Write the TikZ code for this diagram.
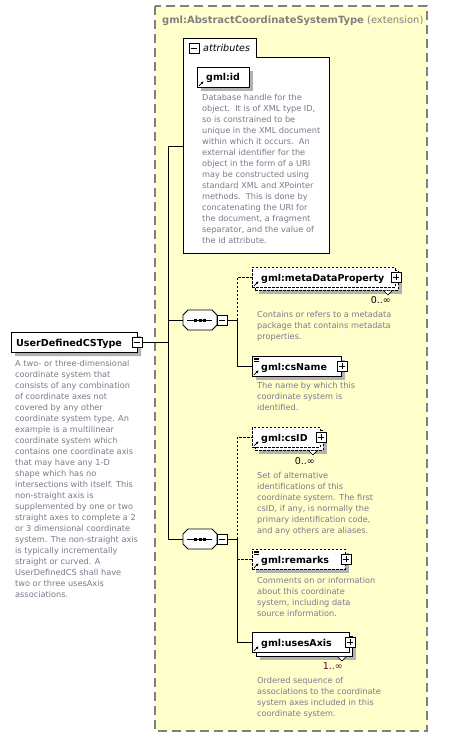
\documentclass[tikz,border=0pt]{standalone}
\usepackage{fontspec}
\setmainfont{DejaVu Sans}
\usetikzlibrary{shapes.misc}
\usetikzlibrary{shadows}
\usetikzlibrary{positioning}
\usetikzlibrary{arrows.meta}
\definecolor{extfill}{RGB}{255,255,204}
\definecolor{extline}{RGB}{128,128,128}
\definecolor{descgray}{RGB}{122,122,138}
\definecolor{shadowgray}{RGB}{178,178,178}
\definecolor{multred}{RGB}{110,0,40}
\tikzset{
    extbox/.style = {draw=extline, fill=extfill, line width=1.1pt, dash pattern=on 9pt off 5pt},
    shad/.style = {drop shadow={shadow xshift=4pt, shadow yshift=-4pt, fill=shadowgray, opacity=1}},
    elem/.style = {rectangle, draw=black, fill=white, line width=0.9pt, anchor=north west, minimum height=20pt, inner sep=0pt},
    elemopt/.style = {elem, dash pattern=on 2.5pt off 1.5pt},
    elemtxt/.style = {anchor=base west, inner sep=0pt, font=\fontsize{9.5}{11}\selectfont\bfseries},
    descr/.style = {anchor=north west, inner sep=0pt, align=left, text=descgray, font=\fontsize{8.2}{11}\selectfont},
    multi/.style = {anchor=east, inner sep=0pt, font=\fontsize{9.5}{11}\selectfont},
    plusbox/.style = {rectangle, draw=black, fill=white, line width=0.8pt, minimum size=10pt, inner sep=0pt,
        path picture={\draw ([xshift=2pt]path picture bounding box.west) -- ([xshift=-2pt]path picture bounding box.east);
                      \draw ([yshift=2pt]path picture bounding box.south) -- ([yshift=-2pt]path picture bounding box.north);}},
    minusbox/.style = {rectangle, draw=black, fill=white, line width=0.8pt, minimum size=10pt, inner sep=0pt,
        path picture={\draw ([xshift=2pt]path picture bounding box.west) -- ([xshift=-2pt]path picture bounding box.east);}},
    seqnode/.style = {rectangle, minimum width=34pt, minimum height=20pt, inner sep=0pt},
    octo/.style = {line width=0.9pt, draw=black, fill=white},
    conn/.style = {line width=0.9pt},
    connopt/.style = {conn, dash pattern=on 2.5pt off 1.5pt},
    refarrow/.style = {line width=0.7pt, -{Triangle[length=2.5pt,width=2.5pt]}},
}
\newcommand{\refmark}[1]{\draw[refarrow] ([shift={(2pt,2pt)}]#1.south west) -- ++(4.5pt,4.5pt);}
\newcommand{\listmark}[1]{\foreach \k in {1.8,3.6,5.4} \draw[line width=0.6pt] ([shift={(2pt,-\k pt)}]#1.north west) -- ++(5pt,0pt);}
\newcommand{\notch}[1]{\draw[line width=0.7pt, fill=white] ([xshift=-15pt]#1.south east) -- ++(4pt,-4pt) -- ++(4pt,4pt);}
% sequence compositor drawn round a named node
\newcommand{\octpath}[1]{([shift={(-17pt,5pt)}]#1.center) -- ([shift={(-12pt,10pt)}]#1.center) -- ([shift={(12pt,10pt)}]#1.center)
    -- ([shift={(17pt,5pt)}]#1.center) -- ([shift={(17pt,-5pt)}]#1.center) -- ([shift={(12pt,-10pt)}]#1.center)
    -- ([shift={(-12pt,-10pt)}]#1.center) -- ([shift={(-17pt,-5pt)}]#1.center) -- cycle}
\newcommand{\seqbox}[1]{%
    \begin{scope}[shift={(4pt,-4pt)}]\fill[shadowgray] \octpath{#1};\end{scope}
    \draw[octo] \octpath{#1};
    \draw[line width=0.9pt] ([xshift=-13pt]#1.center) -- ([xshift=12pt]#1.center);
    \foreach \d in {-6,-1.5,3} \fill ([shift={(\d pt,-1.5pt)}]#1.center) rectangle +(3pt,3pt);}

\begin{document}
\begin{tikzpicture}[x=1pt, y=-1pt]
\useasboundingbox[fill=white] (0,0) rectangle (469,737);
% extension frame
\draw[extbox] (155,6) rectangle (427,731);
\node[anchor=base west, inner sep=0pt, text=extline, font=\fontsize{9.95}{11}\selectfont] (title) at (162,23)
    {\textbf{gml:AbstractCoordinateSystemType} (extension)};
%
% attributes
\draw[line width=0.9pt, fill=white] (183,253) -- (183,38) -- (256,38) -- (256,57) -- (329,57) -- (329,253) -- cycle;
\coordinate (attrin) at (183,146);
\node[minusbox] (attrminus) at (194,48) {};
\node[anchor=base west, inner sep=0pt, font=\fontsize{9.6}{11}\selectfont\itshape] (attrlabel) at (203,51.5) {attributes};
\node[elem, shad, minimum width=52pt] (gmlid) at (197,67) {};
\node[elemtxt] at ([shift={(9pt,-3.5pt)}]gmlid.west) {gml:id};
\refmark{gmlid}
\node[descr] (gmliddesc) at (202,94.5) {Database handle for the\\object.\ \ It is of XML type ID,\\so is constrained to be\\unique in the XML document\\within which it occurs.\ \ An\\external identifier for the\\object in the form of a URI\\may be constructed using\\standard XML and XPointer\\methods.\ \ This is done by\\concatenating the URI for\\the document, a fragment\\separator, and the value of\\the id attribute.};
%
% junctions
\coordinate (trunk) at (168,146);
\coordinate (forka) at (237,320);
\coordinate (forkb) at (237,539);
%
% type
\node[chamfered rectangle, chamfered rectangle corners={north west,south west}, chamfered rectangle xsep=3pt,
      draw=black, fill=white, line width=0.9pt, shad, anchor=north west, minimum width=126pt, minimum height=20pt, inner sep=0pt] (udcs) at (11,332) {};
\node[elemtxt, font=\fontsize{9.6}{11}\selectfont\bfseries] at (16,346) {UserDefinedCSType};
\node[minusbox] (udcsminus) at (udcs.east) {};
\node[descr] (udcsdesc) at (15,360.5) {A two- or three-dimensional\\coordinate system that\\consists of any combination\\of coordinate axes not\\covered by any other\\coordinate system type. An\\example is a multilinear\\coordinate system which\\contains one coordinate axis\\that may have any 1-D\\shape which has no\\intersections with itself. This\\non-straight axis is\\supplemented by one or two\\straight axes to complete a 2\\or 3 dimensional coordinate\\system. The non-straight axis\\is typically incrementally\\straight or curved. A\\UserDefinedCS shall have\\two or three usesAxis\\associations.};
%
% sequences
\node[seqnode] (seqa) at (200,320) {};
\seqbox{seqa}
\node[minusbox] (seqaminus) at (222,320) {};
\node[seqnode] (seqb) at (200,539) {};
\seqbox{seqb}
\node[minusbox] (seqbminus) at (222,539) {};
%
% elements of first sequence
\node[elemopt, shad, minimum width=143pt] (mdpback) at (255,270) {};
\node[elemopt, minimum width=143pt] (mdp) at (252,267) {};
\notch{mdpback}
\node[elemtxt] at ([shift={(9pt,-3.7pt)}]mdp.west) {gml:metaDataProperty};
\node[plusbox] (mdpplus) at (mdp.east) {};
\refmark{mdp}
\node[multi] (mdpmult) at (391,300) {0..∞};
\node[descr] (mdpdesc) at (257,311.5) {Contains or refers to a metadata\\package that contains metadata\\properties.};
%
\node[elem, shad, minimum width=89pt] (csname) at (252,356) {};
\node[elemtxt] at ([shift={(9pt,-3.7pt)}]csname.west) {gml:csName};
\node[plusbox] (csnameplus) at (csname.east) {};
\refmark{csname}
\listmark{csname}
\node[descr] (csnamedesc) at (257,382.5) {The name by which this\\coordinate system is\\identified.};
%
% elements of second sequence
\node[elemopt, shad, minimum width=68pt] (csidback) at (255,430) {};
\node[elemopt, minimum width=68pt] (csid) at (252,427) {};
\notch{csidback}
\node[elemtxt] at ([shift={(9pt,-3.7pt)}]csid.west) {gml:csID};
\node[plusbox] (csidplus) at (csid.east) {};
\refmark{csid}
\node[multi] (csidmult) at (315,461) {0..∞};
\node[descr] (csiddesc) at (257,472.5) {Set of alternative\\identifications of this\\coordinate system. The first\\csID, if any, is normally the\\primary identification code,\\and any others are aliases.};
%
\node[elemopt, shad, minimum width=93pt] (remarks) at (252,549) {};
\node[elemtxt] at ([shift={(9pt,-3.7pt)}]remarks.west) {gml:remarks};
\node[plusbox] (remarksplus) at (remarks.east) {};
\refmark{remarks}
\listmark{remarks}
\node[descr] (remarksdesc) at (257,577.5) {Comments on or information\\about this coordinate\\system, including data\\source information.};
%
\node[elem, shad, minimum width=96pt] (axisback) at (256,636) {};
\node[elem, minimum width=97pt] (axis) at (252,632) {};
\notch{axisback}
\node[elemtxt] at ([shift={(9pt,-3.7pt)}]axis.west) {gml:usesAxis};
\node[plusbox] (axisplus) at (axis.east) {};
\refmark{axis}
\node[multi, text=multred] (axismult) at (343,666) {1..∞};
\node[descr] (axisdesc) at (257,677.5) {Ordered sequence of\\associations to the coordinate\\system axes included in this\\coordinate system.};
%
% connectors
\draw[conn] (udcsminus.east) -- (udcsminus.east -| trunk);
\draw[conn] (trunk) -- (attrin);
\draw[conn] (trunk) -- (trunk |- seqb.west);
\draw[conn] (trunk |- seqa.west) -- (seqa.west);
\draw[conn] (trunk |- seqb.west) -- (seqb.west);
\draw[conn] (seqaminus.east) -- (forka);
\draw[connopt] (forka) -- (forka |- mdp.west) -- (mdp.west);
\draw[conn] (forka) -- (forka |- csname.west) -- (csname.west);
\draw[conn] (seqbminus.east) -- (forkb);
\draw[connopt] (forkb) -- (forkb |- csid.west) -- (csid.west);
\draw[connopt] (forkb |- remarks.west) -- (remarks.west);
\draw[conn] (forkb) -- (forkb |- axis.west) -- (axis.west);
\end{tikzpicture}
\end{document}
